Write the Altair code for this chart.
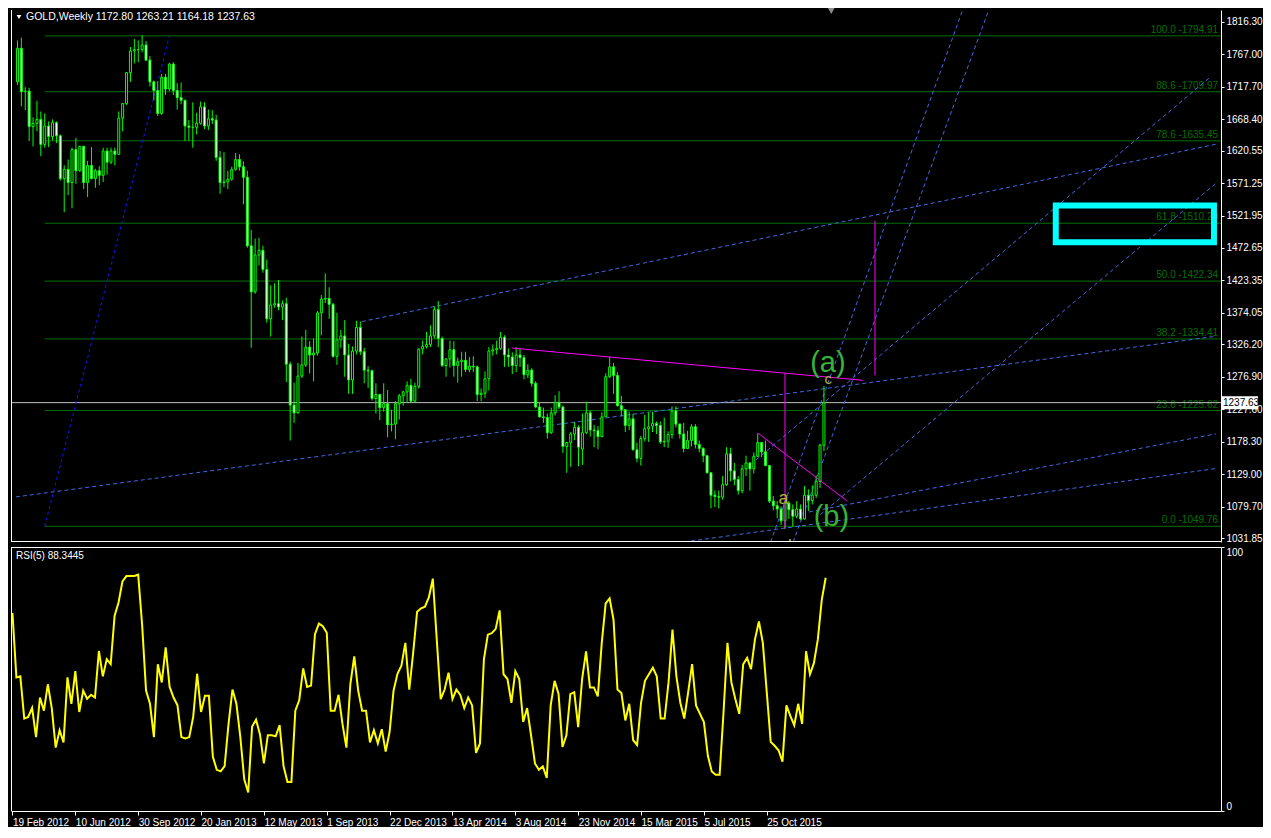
import altair as alt
import pandas as pd

# ---------------- data (weekly GOLD candles, 19 Feb 2012 .. 7 Feb 2016) ----------------
opens = [1725,1776,1710,1711,1657,1662,1668,1630,1658,1642,1663,1643,1578,1592,1572,1622,1590,1627,1572,1598,
         1578,1590,1583,1620,1603,1620,1615,1670,1692,1739,1772,1774,1774,1781,1758,1725,1712,1677,1732,1714,
         1752,1712,1701,1697,1658,1656,1656,1662,1687,1658,1669,1667,1610,1572,1573,1577,1592,1607,1596,1580,
         1476,1406,1462,1469,1440,1365,1386,1388,1383,1388,1296,1234,1222,1278,1295,1322,1310,1313,1374,1395,
         1396,1387,1308,1333,1339,1310,1272,1316,1352,1315,1287,1286,1244,1250,1230,1236,1204,1205,1236,1248,
         1254,1264,1240,1262,1319,1323,1326,1339,1379,1335,1294,1304,1318,1294,1300,1302,1288,1293,1292,1250,
         1252,1274,1316,1318,1320,1337,1310,1307,1294,1310,1306,1280,1287,1267,1231,1216,1215,1192,1222,1238,
         1231,1171,1177,1190,1200,1167,1192,1222,1196,1195,1186,1216,1277,1292,1279,1233,1227,1203,1213,1166,
         1153,1183,1198,1202,1206,1203,1178,1179,1189,1225,1205,1190,1168,1180,1201,1174,1168,1157,1131,1097,
         1095,1094,1113,1160,1134,1121,1104,1137,1146,1137,1156,1177,1163,1142,1088,1081,1076,1058,1085,1075,
         1065,1076,1061,1097,1089,1097,1118,1172.80]
highs = [1788,1792,1717,1716,1671,1696,1680,1677,1665,1668,1665,1645,1598,1607,1625,1640,1628,1628,1605,1626,
         1593,1597,1625,1625,1625,1625,1680,1693,1740,1778,1790,1788,1796,1787,1764,1727,1726,1737,1737,1754,
         1755,1723,1724,1698,1667,1694,1678,1695,1694,1683,1682,1675,1620,1618,1590,1596,1617,1615,1604,1590,
         1500,1487,1488,1476,1455,1416,1419,1424,1393,1397,1300,1268,1298,1338,1348,1331,1335,1377,1401,1434,
         1413,1389,1374,1348,1363,1327,1323,1362,1361,1321,1293,1288,1267,1251,1267,1257,1227,1240,1251,1256,
         1270,1274,1268,1320,1332,1345,1355,1384,1392,1338,1305,1332,1331,1306,1315,1315,1307,1308,1294,1259,
         1285,1322,1326,1332,1345,1340,1320,1314,1322,1320,1310,1296,1290,1270,1238,1230,1221,1230,1249,1255,
         1233,1178,1193,1208,1203,1221,1239,1226,1204,1202,1223,1282,1307,1298,1284,1248,1228,1224,1221,1177,
         1187,1219,1223,1224,1209,1209,1215,1194,1232,1232,1206,1207,1195,1205,1205,1180,1170,1158,1132,1104,
         1104,1126,1170,1169,1146,1126,1143,1157,1147,1162,1191,1178,1180,1143,1096,1088,1080,1088,1088,1083,
         1088,1083,1111,1106,1112,1127,1175,1263.21]
lows = [1720,1688,1682,1635,1627,1650,1612,1625,1626,1636,1632,1575,1527,1553,1533,1570,1588,1562,1550,1577,
        1564,1568,1573,1584,1600,1598,1614,1650,1690,1725,1753,1755,1770,1757,1718,1697,1673,1675,1705,1711,
        1705,1683,1691,1635,1635,1625,1645,1660,1653,1652,1661,1605,1555,1565,1562,1575,1590,1590,1539,1473,
        1321,1403,1446,1435,1359,1338,1382,1378,1363,1269,1180,1207,1221,1275,1292,1282,1270,1309,1340,1389,
        1365,1306,1295,1321,1277,1251,1251,1311,1310,1267,1260,1241,1221,1211,1224,1185,1194,1182,1212,1233,
        1237,1238,1238,1259,1311,1320,1322,1335,1322,1292,1277,1291,1277,1268,1277,1284,1284,1284,1240,1240,
        1245,1256,1309,1311,1318,1292,1292,1281,1284,1292,1273,1275,1262,1229,1215,1207,1183,1190,1218,1228,
        1161,1131,1140,1181,1141,1143,1190,1186,1170,1167,1185,1216,1275,1251,1232,1217,1193,1196,1165,1147,
        1142,1179,1178,1193,1190,1175,1170,1169,1183,1200,1183,1162,1167,1171,1168,1162,1147,1130,1077,1079,
        1077,1090,1111,1118,1112,1098,1100,1126,1104,1130,1155,1155,1141,1085,1074,1062,1052,1046,1061,1049,
        1062,1059,1060,1073,1083,1093,1108,1164.18]
closes = [1776,1710,1711,1657,1662,1668,1630,1658,1642,1663,1643,1578,1592,1572,1622,1590,1627,1572,1598,1578,
          1590,1583,1620,1603,1620,1615,1670,1692,1739,1772,1774,1774,1781,1758,1725,1712,1677,1732,1714,1752,
          1712,1701,1697,1658,1656,1656,1662,1687,1658,1669,1667,1610,1572,1573,1577,1592,1607,1596,1580,1476,
          1406,1462,1469,1440,1365,1386,1388,1383,1388,1296,1234,1222,1278,1295,1322,1310,1313,1374,1395,1396,
          1387,1308,1333,1339,1310,1272,1316,1352,1315,1287,1286,1244,1250,1230,1236,1204,1205,1236,1248,1254,
          1264,1240,1262,1319,1323,1326,1339,1379,1335,1294,1304,1318,1294,1300,1302,1288,1293,1292,1250,1252,
          1274,1316,1318,1320,1337,1310,1307,1294,1310,1306,1280,1287,1267,1231,1216,1215,1192,1222,1238,1231,
          1171,1177,1190,1200,1170,1192,1222,1196,1195,1186,1216,1277,1292,1279,1233,1227,1203,1213,1166,1153,
          1183,1198,1201,1206,1203,1178,1179,1189,1225,1205,1190,1168,1180,1201,1174,1168,1157,1131,1097,1095,
          1094,1113,1160,1134,1121,1104,1137,1146,1137,1156,1177,1163,1142,1088,1081,1076,1058,1085,1075,1065,
          1076,1061,1097,1089,1097,1118,1173,1237.63]
rsi_values = [75,50.6,51,35,35.6,39,28,43,38,48,
              39,24,30.6,26,50.6,40.6,53,37.5,45.6,42.5,
              44,43,60.6,51,57.5,55.6,74,79,87,89,
              89,89,89.5,70.6,45.6,40.6,28,55.6,48.7,62,
              47,43,40,28,27.5,28,35.6,52,37.5,43.7,
              43.7,20.6,15.6,15,17,33,46,40.6,28,12,
              7,32,34.6,29,18,28.7,28.7,28.3,32.5,17,
              11,11,38,42,54,47,47.5,67,71,70,
              67.5,38,38,44,33,24,48,58.6,45.6,38,
              38,26,30.6,25.6,31,22.5,30,45.6,52,55,
              63.7,46,60,75.5,76.8,77.4,81,88,65,42.4,
              46,52.4,42.4,46,44,39,43,40,22,25.6,
              57.4,66.8,67.4,69,76,51.8,50,41,53,50,
              33.7,39,28.7,18,15.6,16.9,12.5,40,49.3,44.3,
              24.3,28.7,44.3,45,31.8,50,60.5,46.8,46.8,43.4,
              63.7,78.6,80.5,72.4,46,44.7,34.3,40.6,26.8,25,
              41,49.3,51.8,54.3,51,35,35,48.7,68.7,51,
              41,35,45,55.6,40,36.8,33.7,21,15,13.7,
              13.7,37.5,63.7,48.7,42.4,36.8,55.6,58,53.7,65,
              71.8,63.7,45,26.2,24.7,23,18.7,40,36,32.5,
              40.6,33,60.5,51.8,56,65,80,88.3445]

price_ticks = [1816.30, 1767.00, 1717.70, 1668.40, 1620.55, 1571.25, 1521.95, 1472.65, 1423.35,
               1374.05, 1326.20, 1276.90, 1227.60, 1178.30, 1129.00, 1079.70, 1031.85]
date_tick_bars = [0, 16, 32, 48, 64, 80, 96, 112, 128, 144, 160, 176, 192]
date_tick_labels = ["19 Feb 2012", "10 Jun 2012", "30 Sep 2012", "20 Jan 2013", "12 May 2013", "1 Sep 2013",
                    "22 Dec 2013", "13 Apr 2014", "3 Aug 2014", "23 Nov 2014", "15 Mar 2015", "5 Jul 2015",
                    "25 Oct 2015"]

fib_levels = [100.0, 88.6, 78.6, 61.8, 50.0, 38.2, 23.6, 0.0]
fib_prices = [1794.91, 1709.97, 1635.45, 1510.20, 1422.34, 1334.41, 1225.62, 1049.76]
fib_anchor_bars = [7, 39]
fib_anchor_prices = [1049.76, 1794.91]

blue_x1 = [88.4, -0.4, 199.6, 171.1, 189.6, 206.1, 193.3, 199.1]
blue_p1 = [1360.8, 1094.4, 1067.5, 1025.9, 1150.9, 1067.6, 1025.9, 1025.9]
blue_x2 = [307.6, 307.6, 307.6, 307.6, 306.4, 307.6, 242.6, 249.3]
blue_p2 = [1630.2, 1338.5, 1190.2, 1137.5, 1733.5, 1570.7, 1834.2, 1834.2]

mag_x1 = [126.9, 190.1, 197.0, 220.1]
mag_p1 = [1320.6, 1191.1, 1281.9, 1514.1]
mag_x2 = [217.1, 212.9, 197.0, 220.1]
mag_p2 = [1271.5, 1088.4, 1046.7, 1278.9]

wave_text = ["(a)", "(b)", "a", "c"]
wave_bar = [208.0, 208.9, 196.6, 208.1]
wave_price = [1298.0, 1064.0, 1091.0, 1273.0]
wave_size = [29, 29, 18, 15]
wave_color = ["#37B437", "#37B437", "#A6B43A", "#A6B43A"]

box_bars = [266.5, 307.1]
box_prices = [1537.2, 1481.4]

last_price = 1237.63
title_text = "GOLD,Weekly  1172.80 1263.21 1164.18 1237.63"
rsi_text = "RSI(5) 88.3445"

# ---------------- layout ----------------
W = 1210
H_MAIN = 532
H_RSI = 264
X_DOMAIN = [-0.375, 307.625]
Y_DOMAIN = [1025.9, 1834.2]
FONT = "Liberation Sans"
LIME = "#00FF00"
FIBC = "#007000"

xs = alt.Scale(domain=X_DOMAIN, nice=False, zero=False)
ys = alt.Scale(domain=Y_DOMAIN, nice=False, zero=False)
y_axis = alt.Axis(orient="right", values=price_ticks, format=".2f", labelColor="white", tickColor="white",
                  domainColor="white", tickSize=3, labelPadding=2, labelFontSize=10, grid=False, title=None,
                  labelOverlap=False, labelFlush=False, labelFont=FONT)


def X(f):
    return alt.X(f, type="quantitative", scale=xs, axis=None)


def Y(f):
    return alt.Y(f, type="quantitative", scale=ys, axis=y_axis)


n = len(closes)
candles = pd.DataFrame({"i": list(range(n)), "o": opens, "h": highs, "l": lows, "c": closes})
candles["dir"] = ["up" if c >= o else "down" for o, c in zip(opens, closes)]

fib = pd.DataFrame({"price": fib_prices, "start": [fib_anchor_bars[0]] * len(fib_prices),
                    "label": [f"{a:.1f} -{p:.2f}" for a, p in zip(fib_levels, fib_prices)]})
fib_diag = pd.DataFrame({"x1": [fib_anchor_bars[0]], "x2": [fib_anchor_bars[1]],
                         "y1": [fib_anchor_prices[0]], "y2": [fib_anchor_prices[1]]})
blue = pd.DataFrame({"x1": blue_x1, "x2": blue_x2, "y1": blue_p1, "y2": blue_p2})
mag = pd.DataFrame({"x1": mag_x1, "x2": mag_x2, "y1": mag_p1, "y2": mag_p2})
waves = pd.DataFrame({"t": wave_text, "x": wave_bar, "y": wave_price, "s": wave_size, "col": wave_color})
box = pd.DataFrame({"x1": [box_bars[0]], "x2": [box_bars[1]], "y1": [box_prices[0]], "y2": [box_prices[1]]})
lastdf = pd.DataFrame({"p": [last_price], "t": [f"{last_price:.2f}"]})
one = pd.DataFrame({"k": [0]})

fib_lines = alt.Chart(fib).mark_rule(color=FIBC, strokeWidth=1).encode(
    x=X("start"), x2=alt.value(W), y=Y("price"))
fib_labels = alt.Chart(fib).mark_text(align="right", baseline="bottom", dy=-1, fontSize=10, color=FIBC,
                                      font=FONT).encode(x=alt.value(W - 3), y=Y("price"), text="label:N")
last_line = alt.Chart(lastdf).mark_rule(color="#C0C0C0", strokeWidth=1).encode(y=Y("p"))
diag = alt.Chart(fib_diag).mark_rule(color="#1515FF", strokeWidth=1, strokeDash=[3, 3], clip=True).encode(
    x=X("x1"), x2="x2", y=Y("y1"), y2="y2")
blue_lines = alt.Chart(blue).mark_rule(color="#4169E1", strokeWidth=1, strokeDash=[4, 3], clip=True).encode(
    x=X("x1"), x2="x2", y=Y("y1"), y2="y2")
mag_lines = alt.Chart(mag).mark_rule(color="#FF00FF", strokeWidth=1, clip=True).encode(
    x=X("x1"), x2="x2", y=Y("y1"), y2="y2")
wicks = alt.Chart(candles).mark_rule(color=LIME, strokeWidth=1).encode(x=X("i"), y=Y("l"), y2="h")
bodies = alt.Chart(candles).mark_bar(width=2, stroke=LIME, strokeWidth=1).encode(
    x=X("i"), y=Y("o"), y2="c",
    fill=alt.Fill("dir:N", scale=alt.Scale(domain=["up", "down"], range=["black", "white"]), legend=None))
wave_labels = alt.Chart(waves).mark_text(font=FONT, baseline="middle", align="center").encode(
    x=X("x"), y=Y("y"), text="t:N", size=alt.Size("s:Q", scale=None), color=alt.Color("col:N", scale=None))
b_label = alt.Chart(one).mark_text(font=FONT, text="b", fontSize=15, color="#C8C83A", clip=True,
                                   baseline="middle").encode(x=alt.value(W * 198.9 / 308.0), y=alt.value(H_MAIN + 3))
cyan_box = alt.Chart(box).mark_rect(fillOpacity=0, stroke="#00FFFF", strokeWidth=6).encode(
    x=X("x1"), x2="x2", y=Y("y1"), y2="y2")
shift_marker = alt.Chart(one).mark_point(shape="triangle-down", filled=True, color="#8C8C8C", size=45,
                                         opacity=1).encode(x=alt.value(W * 208.8 / 308.0), y=alt.value(1))
tag = alt.Chart(lastdf).mark_tick(orient="horizontal", color="white", size=36, thickness=13, opacity=1).encode(
    x=alt.value(W + 19), y=Y("p"))
tag_text = alt.Chart(lastdf).mark_text(align="left", baseline="middle", color="black", fontSize=10,
                                       font=FONT).encode(x=alt.value(W + 2), y=Y("p"), text="t:N")
title_tri = alt.Chart(one).mark_point(shape="triangle-down", filled=True, color="white", size=22,
                                      opacity=1).encode(x=alt.value(8), y=alt.value(7))
title = alt.Chart(one).mark_text(text=title_text, align="left", baseline="middle", color="white",
                                 fontSize=10.5, font=FONT).encode(x=alt.value(15), y=alt.value(7))
main_left = alt.Chart(one).mark_rule(color="white", strokeWidth=1).encode(
    x=alt.value(0.5), y=alt.value(0), y2=alt.value(H_MAIN))
main_bottom = alt.Chart(one).mark_rule(color="white", strokeWidth=1).encode(
    x=alt.value(0), x2=alt.value(W), y=alt.value(H_MAIN - 0.5))

main = alt.layer(fib_lines, fib_labels, last_line, diag, blue_lines, wicks, bodies, mag_lines, wave_labels,
                 b_label, cyan_box, shift_marker, tag, tag_text, title_tri, title, main_left,
                 main_bottom).properties(width=W, height=H_MAIN)

# ---------------- RSI panel ----------------
rsi_df = pd.DataFrame({"i": list(range(len(rsi_values))), "rsi": rsi_values})
label_expr = "[" + ",".join(f"'{s}'" for s in date_tick_labels) + "][round(datum.value/16)]"
x_axis = alt.Axis(orient="bottom", values=date_tick_bars, labelExpr=label_expr, labelAlign="left",
                  labelColor="white", tickColor="white", domainColor="white", tickSize=4, labelPadding=2,
                  labelFontSize=10, labelFont=FONT, grid=False, title=None, labelOverlap=False,
                  labelFlush=False, labelBound=False)
rsi_axis = alt.Axis(orient="right", values=[0, 100], labelColor="white", tickColor="white", domainColor="white",
                    tickSize=3, labelPadding=2, labelFontSize=10, labelFont=FONT, grid=False, title=None,
                    labelFlush=True, labelOverlap=False)
rsi_line = alt.Chart(rsi_df).mark_line(color="#FFFF00", strokeWidth=2).encode(
    x=alt.X("i:Q", scale=xs, axis=x_axis),
    y=alt.Y("rsi:Q", scale=alt.Scale(domain=[0, 100], nice=False, zero=False), axis=rsi_axis))
rsi_label = alt.Chart(one).mark_text(text=rsi_text, align="left", baseline="middle", color="white",
                                     fontSize=10, font=FONT).encode(x=alt.value(5), y=alt.value(9))
rsi_top = alt.Chart(one).mark_rule(color="white", strokeWidth=1).encode(
    x=alt.value(0), x2=alt.value(W), y=alt.value(0.5))
rsi_left = alt.Chart(one).mark_rule(color="white", strokeWidth=1).encode(
    x=alt.value(0.5), y=alt.value(0), y2=alt.value(H_RSI))
rsi = alt.layer(rsi_line, rsi_label, rsi_top, rsi_left).properties(width=W, height=H_RSI)

chart = alt.vconcat(main, rsi, spacing=2).resolve_scale(x="independent", y="independent").properties(
    padding=0).configure(background="black", font=FONT).configure_view(strokeWidth=0)

chart.save("out.html", embed_options={"renderer": "svg", "actions": False})
